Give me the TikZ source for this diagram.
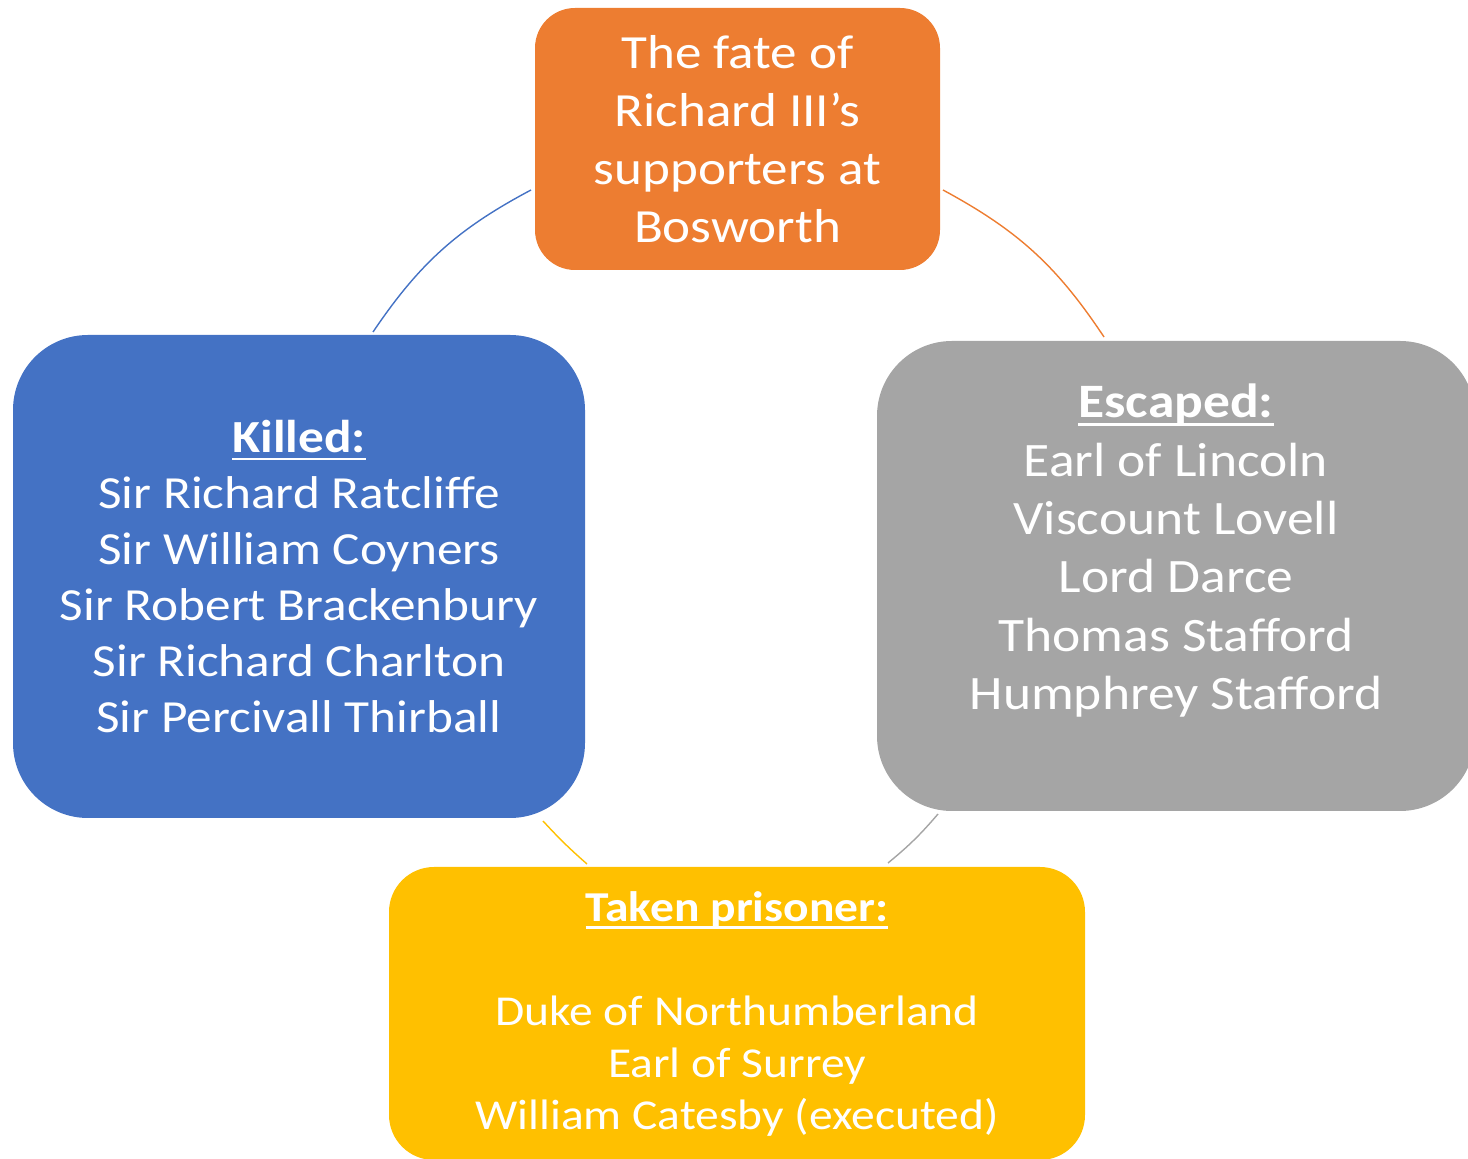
\documentclass[tikz,border=0pt]{standalone}
\usepackage{fontspec}
\setmainfont{Carlito}[FakeStretch=1.115]
\definecolor{cOrange}{HTML}{ED7D31}
\definecolor{cBlue}{HTML}{4472C4}
\definecolor{cGray}{HTML}{A5A5A5}
\definecolor{cGold}{HTML}{FFC000}
% bold heading with a rule under it
\newcommand\headline[1]{\setbox0\hbox{\textbf{#1}}\rlap{\rule[-4pt]{\wd0}{1.4pt}}\box0}
\tikzset{
  cyclebox/.style={draw=none, text=white, align=center, inner sep=0pt, outer sep=0pt},
  link/.style={line width=0.7pt},
}
\begin{document}
\begin{tikzpicture}[x=0.5pt,y=-0.5pt]
  \useasboundingbox (0,0) rectangle (1468,1159);
  \clip (0,0) rectangle (1468,1159);

  % the four outcome boxes
  \node[cyclebox, fill=cOrange, rounded corners=20pt,
        minimum width=202.5pt, minimum height=131pt,
        font=\fontsize{23.8}{29}\selectfont] (fate) at (737.5,139)
    {The fate of\\ Richard III’s\\ supporters at\\ Bosworth};

  \node[cyclebox, fill=cBlue, rounded corners=37.5pt,
        minimum width=286pt, minimum height=241.5pt,
        font=\fontsize{23}{28}\selectfont] (killed) at (299,576.5)
    {\headline{Killed:}\\ Sir Richard Ratcliffe\\ Sir William Coyners\\
     Sir Robert Brackenbury\\ Sir Richard Charlton\\ Sir Percivall Thirball};

  \node[cyclebox, fill=cGray, rounded corners=37.5pt,
        minimum width=299pt, minimum height=235pt,
        font=\fontsize{24}{29.2}\selectfont] (escaped) at (1176,576)
    {\headline{Escaped:}\\ Earl of Lincoln\\ Viscount Lovell\\ Lord Darce\\
     Thomas Stafford\\ Humphrey Stafford\\ \mbox{}};

  \node[cyclebox, fill=cGold, rounded corners=22.5pt,
        minimum width=348pt, minimum height=146.5pt,
        font=\fontsize{21.3}{26}\selectfont] (prisoner) at (737,1013.5)
    {\headline{Taken prisoner:}\\ \mbox{}\\ Duke of Northumberland\\
     Earl of Surrey\\ William Catesby (executed)};

  % arc ends, just clear of the boxes
  \coordinate (fateR) at (943,190);
  \coordinate (escT)  at (1104,337);
  \coordinate (escB)  at (938,814);
  \coordinate (prisR) at (888,863);
  \coordinate (prisL) at (587,864);
  \coordinate (killB) at (543,821);
  \coordinate (killT) at (373,332);
  \coordinate (fateL) at (531,190);

  % connecting arcs, clockwise
  \draw[link, cOrange] (fateR) to[bend left=14] (escT);
  \draw[link, cGray]   (escB)  to[bend left=5]  (prisR);
  \draw[link, cGold]   (prisL) to[bend left=3]  (killB);
  \draw[link, cBlue]   (killT) to[bend left=14] (fateL);
\end{tikzpicture}
\end{document}
